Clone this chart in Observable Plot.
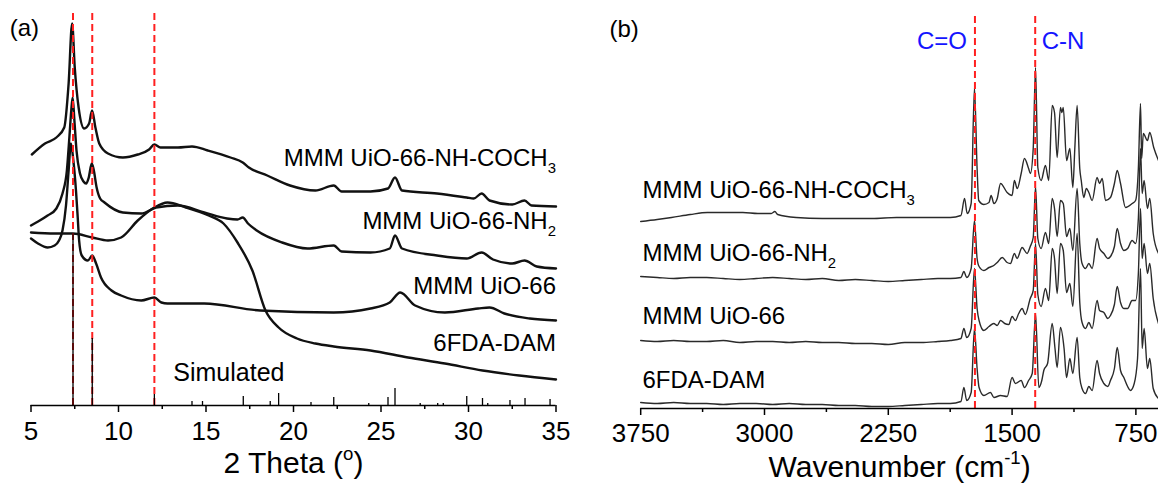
<!DOCTYPE html>
<html>
<head>
<meta charset="utf-8">
<script src="https://cdn.jsdelivr.net/npm/d3@7"></script>
<script src="https://cdn.jsdelivr.net/npm/@observablehq/plot@0.6"></script>
<style>
html, body { margin: 0; padding: 0; background: #fff; }
#wrap { position: relative; width: 1158px; height: 490px; overflow: hidden; background: #fff; }
#wrap svg { position: absolute; top: 0; overflow: visible; }
</style>
</head>
<body>
<div id="wrap"></div>
<script>
// ---------------- Panel (a): XRD ----------------
const xTicksA = [5, 10, 15, 20, 25, 30, 35];
const xMinorA = [7.5, 12.5, 17.5, 22.5, 27.5, 32.5];
const markersA = [7.4, 8.5, 12.05];
const labelsA = ["MMM UiO-66-NH-COCH_{3}", "MMM UiO-66-NH_{2}", "MMM UiO-66", "6FDA-DAM", "Simulated"];

const xrd_COCH3 = [[5.05,251],[5.8,262],[6.45,268],[6.9,278],[7.15,322],[7.35,382],[7.5,338],[7.72,298],[8.04,277],[8.32,282],[8.49,295],[8.68,278],[8.9,262],[9.4,252],[10.25,248],[11.1,251],[11.75,256],[12.05,261],[12.4,258],[13.4,258],[14.2,259],[15.1,255],[16.4,248],[17.1,243],[17.45,238],[18.5,230],[19.8,220],[21.25,215],[22.3,220],[22.75,214],[24.4,214],[25.4,217],[25.8,228],[26.2,215],[28.2,212],[29.9,208],[30.3,207],[30.75,212],[31.2,205],[32.5,201],[33.2,205],[33.6,200],[35,199]];
const xrd_NH2 = [[5.0,180],[5.3,183],[5.95,190],[6.45,197],[6.8,212],[7.05,235],[7.2,270],[7.3,295],[7.38,308],[7.48,285],[7.6,255],[7.8,232],[8.0,224],[8.15,222],[8.3,228],[8.47,242],[8.58,236],[8.75,218],[8.95,207],[9.2,203],[10.25,193],[11.3,192],[12.15,198],[13.4,200],[14.9,193],[16.2,187],[16.8,186],[17.1,188],[17.4,182],[17.9,175],[19.35,163],[20.8,157],[22.3,160],[22.75,154],[24.4,153],[25.5,157],[25.8,170],[26.2,157],[28.2,150],[29.9,147],[30.75,153],[31.4,146],[32.5,142],[33.2,145],[33.9,139],[35,137]];
const xrd_UiO66 = [[5.0,167],[5.4,162],[5.95,158],[6.35,160],[6.6,165],[6.8,175],[7.0,200],[7.15,235],[7.28,262],[7.42,245],[7.57,215],[7.67,188],[7.75,165],[7.9,150],[8.25,145],[8.5,150],[8.72,142],[9.0,128],[9.6,115],[10.15,110],[11.3,105],[12.05,108],[12.45,103],[12.8,102],[14.9,102],[18.1,95],[22.3,93],[24.4,97],[25.5,103],[26.1,113],[26.95,100],[28.65,93],[30.55,97],[31.2,98],[32.05,92],[33.5,87],[35,85]];
const xrd_6FDA = [[5.0,173],[6.35,172],[7.4,172],[8.5,168],[9.4,165],[10.15,168],[11.1,185],[12.05,198],[12.8,203],[13.85,198],[15.15,190],[16.0,182],[16.8,163],[17.65,135],[18.4,95],[19.15,78],[20.2,67],[21.25,62],[22.3,59],[24.4,55],[26.55,48],[28.65,42],[30.8,35],[32.9,30],[35,26]];
const simulated = [[7.4,172],[8.5,67],[12.05,11],[14.2,4],[14.8,4],[17.13,9],[18.67,4],[19.15,12],[21.0,3],[22.3,8],[24.3,2],[25.4,8],[25.8,17],[27.24,2],[28.24,2],[28.56,2],[29.9,9],[30.8,7],[31.1,2],[32.37,5],[33.23,7],[34.66,6]];

// ---------------- Panel (b): FTIR ----------------
const xTicksB = [3750, 3000, 2250, 1500, 750];
const xMinorB = [3375, 2625, 1875, 1125];
const markersB = [1725, 1360];
const markerNamesB = ["C=O", "C-N"];
const labelsB = ["MMM UiO-66-NH-COCH_{3}", "MMM UiO-66-NH_{2}", "MMM UiO-66", "6FDA-DAM"];

const ftir_COCH3 = [[3750,187],[3650,189],[3563,191],[3450,194],[3346,196],[3230,196],[3131,196],[3040,195],[2959,195],[2937,197],[2920,194],[2808,191],[2650,190],[2485,190],[2350,190],[2200,191],[2050,191],[1950,191],[1874,191],[1810,193],[1788,210],[1772,195],[1748,205],[1728,321],[1712,240],[1702,208],[1671,204],[1640,206],[1627,213],[1610,205],[1590,210],[1570,225],[1530,216],[1500,213],[1486,228],[1469,220],[1445,235],[1425,250],[1400,240],[1389,235],[1372,260],[1358,341],[1344,241],[1324,228],[1298,243],[1278,228],[1257,303],[1243,296],[1227,251],[1207,301],[1198,296],[1190,301],[1170,248],[1150,260],[1132,221],[1120,260],[1106,303],[1090,240],[1081,228],[1066,211],[1050,220],[1035,216],[1015,208],[985,231],[970,225],[954,230],[934,208],[904,211],[880,225],[863,238],[843,225],[813,201],[772,205],[752,208],[735,240],[722,305],[715,250],[705,275],[680,268],[666,276],[642,261],[613,248]];
const ftir_NH2 = [[3750,132],[3650,131],[3550,130],[3450,131],[3350,131],[3250,130],[3150,129],[3050,130],[2950,131],[2850,130],[2750,129],[2650,130],[2550,128],[2450,129],[2350,128],[2250,127],[2150,128],[2050,129],[1950,130],[1874,130],[1810,131],[1792,137],[1775,131],[1748,140],[1728,188],[1712,150],[1700,142],[1671,138],[1640,141],[1611,143],[1590,146],[1560,151],[1530,146],[1510,145],[1486,155],[1470,150],[1439,161],[1409,155],[1390,162],[1372,171],[1358,222],[1344,170],[1324,160],[1298,176],[1278,165],[1257,210],[1243,200],[1227,172],[1207,208],[1190,205],[1170,172],[1150,180],[1132,158],[1106,220],[1090,165],[1076,145],[1055,140],[1035,145],[1015,140],[985,170],[970,160],[944,155],[920,150],[904,152],[880,162],[863,180],[843,165],[823,158],[800,160],[773,168],[752,165],[735,190],[722,260],[712,215],[700,228],[680,200],[666,210],[645,175],[613,155]];
const ftir_UiO66 = [[3750,68],[3650,67],[3550,68],[3450,67],[3350,67],[3250,68],[3150,66],[3050,67],[2950,67],[2850,66],[2750,67],[2650,66],[2550,66],[2450,65],[2350,65],[2250,64],[2150,66],[2050,66],[1950,67],[1874,68],[1810,70],[1792,80],[1775,71],[1748,80],[1728,140],[1712,100],[1700,88],[1671,78],[1640,82],[1611,85],[1590,83],[1570,88],[1545,85],[1520,84],[1500,92],[1480,88],[1460,95],[1439,100],[1420,94],[1390,110],[1372,118],[1358,165],[1344,114],[1324,102],[1298,120],[1278,108],[1257,160],[1243,150],[1227,115],[1207,165],[1190,158],[1170,116],[1150,125],[1132,102],[1106,175],[1090,106],[1076,86],[1055,80],[1035,86],[1015,80],[985,108],[970,98],[944,96],[920,90],[904,93],[880,104],[863,122],[843,106],[823,100],[800,100],[773,108],[752,108],[735,135],[722,200],[712,150],[700,165],[680,135],[666,145],[645,110],[613,85]];
const ftir_6FDA = [[3750,6],[3650,5],[3550,6],[3450,5],[3350,5],[3250,4],[3150,5],[3050,5],[2950,4],[2850,5],[2750,4],[2650,4],[2550,3],[2450,3],[2350,2],[2250,2],[2150,3],[2050,4],[1950,5],[1874,5],[1810,7],[1792,21],[1775,8],[1748,16],[1728,80],[1712,40],[1700,21],[1671,13],[1631,16],[1610,11],[1570,13],[1530,12],[1500,31],[1480,25],[1445,28],[1425,21],[1400,28],[1378,35],[1358,95],[1338,21],[1320,28],[1308,38],[1285,45],[1257,85],[1240,60],[1227,41],[1207,81],[1185,60],[1170,31],[1150,50],[1132,35],[1106,71],[1090,31],[1076,20],[1055,15],[1035,22],[1015,18],[985,48],[970,35],[944,25],[920,22],[904,28],[880,40],[863,61],[843,38],[823,31],[800,22],[783,18],[760,25],[740,50],[722,140],[712,60],[700,80],[680,40],[666,50],[645,20],[613,10]];

// ---------------- helpers ----------------
const FONT = '"Liberation Sans", Arial, Helvetica, sans-serif';
const RED = "#ff2020";
const BLUE = "#1414ff";
const toRows = (list) => list.flatMap(([name, pts]) => pts.map(([x, y]) => ({name, x, y})));

const xrdRows = toRows([["COCH3", xrd_COCH3], ["NH2", xrd_NH2], ["UiO66", xrd_UiO66], ["6FDA", xrd_6FDA]]);
const ftirRows = toRows([["COCH3", ftir_COCH3], ["NH2", ftir_NH2], ["UiO66", ftir_UiO66], ["6FDA", ftir_6FDA]]);
const simRows = simulated.map(([x, y]) => ({x, y}));

// ---------------- Plot (a) ----------------
const plotA = Plot.plot({
  width: 580, height: 490,
  marginLeft: 30.5, marginRight: 24.5, marginTop: 0, marginBottom: 85,
  style: {fontFamily: FONT, fontSize: "26px", color: "#000", background: "transparent", overflow: "visible"},
  x: {domain: [5, 35], axis: null},
  y: {domain: [0, 405], axis: null},
  marks: [
    Plot.line(xrdRows, {x: "x", y: "y", z: "name", stroke: "#111", strokeWidth: 2.4, curve: "monotone-x", strokeLinejoin: "round"}),
    Plot.ruleX(markersA, {y1: 0, y2: 393, stroke: RED, strokeWidth: 2, strokeDasharray: "7,4"}),
    Plot.ruleX(simRows, {x: "x", y1: 0, y2: "y", stroke: "#000", strokeWidth: 1.3}),
    Plot.ruleY([0], {stroke: "#000", strokeWidth: 1.5}),
    Plot.axisX({ticks: xTicksA, tickSize: 7, tickPadding: 9, strokeWidth: 1.5, label: null, tickFormat: (d) => `${d}`}),
    Plot.axisX({ticks: xMinorA, tickSize: 4, strokeWidth: 1.5, fill: "none", label: null}),
    Plot.text([labelsA[0]], {x: 35, y: 240, text: (d) => d, textAnchor: "end", lineAnchor: "bottom", fontSize: 24}),
    Plot.text([labelsA[1]], {x: 35, y: 177, text: (d) => d, textAnchor: "end", lineAnchor: "bottom", fontSize: 24}),
    Plot.text([labelsA[2]], {x: 35, y: 112, text: (d) => d, textAnchor: "end", lineAnchor: "bottom", fontSize: 24}),
    Plot.text([labelsA[3]], {x: 35, y: 55, text: (d) => d, textAnchor: "end", lineAnchor: "bottom", fontSize: 24}),
    Plot.text([labelsA[4]], {x: 13.13, y: 25, text: (d) => d, textAnchor: "start", lineAnchor: "bottom", fontSize: 25}),
    Plot.text(["(a)"], {frameAnchor: "top-left", dx: -21.3, dy: 35, textAnchor: "start", lineAnchor: "bottom", fontSize: 24}),
    Plot.text(["2 Theta (^{o})"], {frameAnchor: "bottom", dy: 67, lineAnchor: "bottom", fontSize: 30})
  ]
});
plotA.style.left = "0px";

// ---------------- Plot (b) ----------------
const plotB = Plot.plot({
  width: 568, height: 490,
  marginLeft: 50.2, marginRight: 0, marginTop: 0, marginBottom: 82,
  style: {fontFamily: FONT, fontSize: "26px", color: "#000", background: "transparent", overflow: "visible"},
  x: {domain: [3750, 613], axis: null},
  y: {domain: [0, 408], axis: null},
  marks: [
    Plot.line(ftirRows, {x: "x", y: "y", z: "name", stroke: "#2a2a2a", strokeWidth: 1.4, curve: "monotone-x", strokeLinejoin: "round"}),
    Plot.ruleX(markersB, {y1: 0, y2: 396, stroke: RED, strokeWidth: 2, strokeDasharray: "7,4"}),
    Plot.ruleY([0], {stroke: "#000", strokeWidth: 1.5}),
    Plot.axisX({ticks: xTicksB, tickSize: 7, tickPadding: 8, strokeWidth: 1.5, label: null, tickFormat: (d) => `${d}`}),
    Plot.axisX({ticks: xMinorB, tickSize: 4, strokeWidth: 1.5, fill: "none", label: null}),
    Plot.text([markerNamesB[0]], {x: markersB[0], y: 360, text: (d) => d, dx: -8, textAnchor: "end", lineAnchor: "bottom", fill: BLUE, fontSize: 24}),
    Plot.text([markerNamesB[1]], {x: markersB[1], y: 360, text: (d) => d, dx: 6.5, textAnchor: "start", lineAnchor: "bottom", fill: BLUE, fontSize: 24}),
    Plot.text([labelsB[0]], {x: 3739, y: 211, text: (d) => d, textAnchor: "start", lineAnchor: "bottom", fontSize: 24}),
    Plot.text([labelsB[1]], {x: 3739, y: 148, text: (d) => d, textAnchor: "start", lineAnchor: "bottom", fontSize: 24}),
    Plot.text([labelsB[2]], {x: 3739, y: 85, text: (d) => d, textAnchor: "start", lineAnchor: "bottom", fontSize: 24}),
    Plot.text([labelsB[3]], {x: 3739, y: 21, text: (d) => d, textAnchor: "start", lineAnchor: "bottom", fontSize: 24}),
    Plot.text(["(b)"], {frameAnchor: "top-left", dx: -31.3, dy: 36, textAnchor: "start", lineAnchor: "bottom", fontSize: 24}),
    Plot.text(["Wavenumber (cm^{-1})"], {frameAnchor: "bottom", dy: 68, lineAnchor: "bottom", fontSize: 30})
  ]
});
plotB.style.left = "590px";

const wrap = document.getElementById("wrap");
wrap.append(plotA, plotB);

// turn _{..} / ^{..} markers into real sub/superscript tspans
function richify(root) {
  const NS = "http://www.w3.org/2000/svg";
  root.querySelectorAll("text").forEach((t) => {
    const s = t.textContent;
    if (!/[_^]\{/.test(s) || t.querySelector("tspan")) return;
    const fs = parseFloat(getComputedStyle(t).fontSize) || 24;
    t.textContent = "";
    let cur = 0;
    const add = (txt, off, small) => {
      const sp = document.createElementNS(NS, "tspan");
      if (off !== cur) sp.setAttribute("dy", (off - cur).toFixed(2));
      cur = off;
      if (small) sp.setAttribute("font-size", (fs * 0.62).toFixed(1));
      sp.textContent = txt;
      t.appendChild(sp);
    };
    const re = /([_^])\{([^}]*)\}/g;
    let last = 0, m;
    while ((m = re.exec(s))) {
      if (m.index > last) add(s.slice(last, m.index), 0, false);
      add(m[2], m[1] === "_" ? fs * 0.3 : -fs * 0.42, true);
      last = re.lastIndex;
    }
    if (last < s.length) add(s.slice(last), 0, false);
  });
}
richify(wrap);
</script>
</body>
</html>
